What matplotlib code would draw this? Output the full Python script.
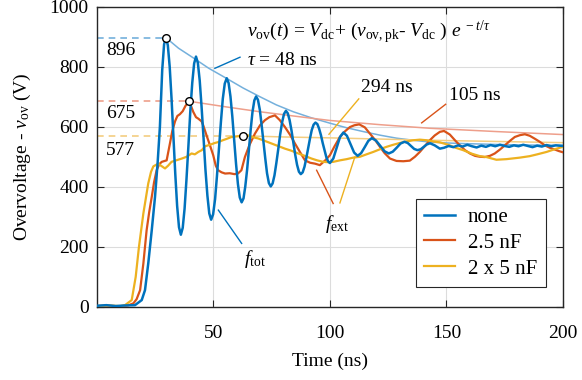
"""
Overvoltage waveforms with and without external capacitance,
with exponential envelope fits.
"""

import numpy as np
import matplotlib
matplotlib.use("Agg")
import matplotlib.pyplot as plt

# ─── DATA ─────────────────────────────────────────────────────────────────────
# none (no external capacitor)
t_none = [0, 4, 8, 12, 16.3, 19.2, 20.6, 22.0, 23.5, 24.9, 26.0, 27.0, 28.0, 28.8, 29.6,
          30.4, 31.2, 32.0, 32.8, 33.6, 34.4, 35.2, 36.0,
          36.8, 37.6, 38.4, 39.25, 40.05, 40.9, 41.7, 42.5,
          43.3, 44.1, 44.9, 45.75, 46.55, 47.4, 48.2, 49.0,
          49.85, 50.7, 51.5, 52.35, 53.2, 54.0, 54.85, 55.7,
          56.5, 57.3, 58.1, 58.9, 59.7, 60.5, 61.3, 62.1,
          62.9, 63.65, 64.45, 65.2, 66.0, 66.75, 67.55, 68.3,
          69.1, 69.9, 70.65, 71.45, 72.25, 73.0, 73.8, 74.6,
          75.4, 76.2, 77.0, 77.85, 78.65, 79.5, 80.3, 81.1,
          81.9, 82.7, 83.5, 84.3, 85.1, 85.9, 86.7, 87.5,
          88.3, 89.1, 89.85, 90.65, 91.45, 92.2, 93.0, 93.8,
          94.6, 95.35, 96.15, 96.9, 97.7, 98.45, 99.25, 100.0,
          101.45, 102.9, 104.35, 105.8, 107.3, 108.85, 110.4, 111.9, 113.4, 114.95, 116.5,
          118.0, 119.8, 121.65, 123.5, 125.3, 127.0, 128.65, 130.3, 132.0, 133.4, 134.8,
          136.2, 137.6, 139.0, 140.3, 141.6, 143.0, 145, 147.2, 149, 151, 153, 155, 157,
          159, 161, 163, 165, 167, 169, 171, 173, 175, 177, 179, 181, 183, 185, 187, 189,
          191, 193, 195, 197, 200]
v_none = [3, 5, 2, 4, 5, 22, 55, 144, 255, 366, 477, 600, 790, 875, 897,
          872, 801, 694, 568, 443, 336, 265, 240,
          263, 327, 423, 537, 651, 747, 811, 834,
          813, 754, 666, 562, 458, 370, 311, 290,
          308, 359, 436, 526, 616, 693, 744, 762,
          746, 701, 634, 555, 476, 409, 364, 348,
          361, 400, 457, 524, 592, 649, 688, 701,
          690, 657, 608, 551, 494, 445, 412, 401,
          411, 438, 479, 527, 575, 616, 643, 653,
          645, 622, 588, 547, 507, 473, 450, 442,
          448, 467, 495, 528, 561, 589, 607, 614,
          609, 594, 572, 546, 521, 499, 484, 479,
          494, 530, 566, 581, 570, 542, 514, 503, 512, 532, 553,
          562, 554, 536, 518, 511, 517, 530, 544, 550, 546, 536,
          526, 522, 525, 533, 541, 545, 538, 527, 530, 536, 532, 538, 534,
          540, 535, 531, 537, 533, 539, 535, 540, 536, 533, 538, 535, 540, 536, 532, 537,
          534, 539, 535, 538, 536]

# 2.5 nF
t_25 = [0, 5, 10, 13.3, 15.6, 17.0, 18.5, 19.9, 21.3, 22.4, 23.5, 24.5, 25.6, 26.7,
        27.8, 29.9, 31.3, 32.3, 33.5, 34.5, 35.6, 36.8, 38.0, 39.6, 41.3, 42.5, 43.5,
        44.9, 45.6, 47.0, 48.5, 49.9, 51.0, 52.0, 53.5, 55.0, 57.0, 59.0, 60.5, 62.0,
        63.5, 65.5, 67.8, 70.0, 72.1, 74.0, 76.4, 78.5, 80.7, 83.0, 85.0, 87.2, 89.3,
        91.5, 93.6, 95.7, 98.0, 100.0, 102.0, 104.3, 106.5, 108.6, 110.5, 112.6, 115.0,
        117.2, 119.5, 121.5, 123.5, 125.8, 128.6, 131.5, 134.3, 136.5, 138.6, 140.8,
        142.9, 145.0, 147.2, 149.0, 151.5, 153.7, 155.8, 158.0, 160.1, 162.3, 164.4,
        166.5, 168.7, 170.8, 173.0, 175.1, 177.3, 179.4, 181.6, 183.7, 185.8, 188.0,
        190.1, 192.3, 194.4, 196.6, 198.3, 200]
v_25 = [2, 3, 1, 4, 11, 25, 55, 144, 255, 315, 366, 415, 455, 475,
        483, 488, 544, 585, 618, 636, 642, 652, 670, 685, 650, 632, 627,
        618, 605, 572, 538, 505, 470, 455, 448, 444, 445, 442, 444, 455,
        499, 540, 577, 605, 622, 632, 638, 622, 599, 572, 544, 515, 488,
        480, 477, 472, 488, 505, 535, 566, 585, 599, 605, 608, 598,
        577, 555, 533, 512, 494, 486, 485, 487, 500, 516, 536,
        555, 571, 583, 586, 574, 555, 538, 522, 511, 503, 500,
        499, 503, 511, 524, 538, 553, 566, 572, 575, 570, 560,
        550, 538, 530, 524, 519, 515]

# 2 x 5 nF
t_25x2 = [0, 5, 10, 12.0, 14.9, 16.6, 18.0, 19.9, 22.0, 23.2, 24.2, 26.3, 27.5, 29.2,
          30.5, 32.0, 34.0, 36.4, 38.5, 40.6, 42.0, 43.5, 45.0, 46.4, 48.5, 50.6, 52.1,
          54.0, 55.8, 57.8, 60.0, 62.5, 64.5, 66.5, 69.2, 72.0, 75.0, 78.0, 80.7, 83.5,
          86.4, 89.2, 92.1, 94.5, 97.1, 99.0, 101.4, 104.3, 107.2, 110.0, 112.9, 115.7,
          118.6, 121.5, 124.3, 127.2, 130.0, 132.9, 135.8, 138.6, 141.5, 144.3, 147.2,
          150.8, 154.0, 157.2, 161.0, 164.4, 167.2, 171.5, 175.8, 181.5, 185.8, 189.0,
          193.0, 196.5, 200]
v_25x2 = [2, 4, 2, 5, 22, 99, 199, 311, 411, 450, 468, 477, 470, 461,
          470, 483, 488, 494, 500, 511, 508, 516, 522, 535, 540, 546, 549,
          555, 560, 566, 568, 570, 572, 566, 561, 553, 544, 535, 527, 520,
          511, 503, 494, 488, 483, 482, 483, 488, 492, 497, 500, 508,
          516, 525, 533, 540, 546, 551, 555, 557, 555, 551, 548,
          540, 530, 522, 510, 502, 499, 490, 492, 497, 502, 508,
          516, 525, 533]

series_labels = ["none", "2.5 nF", "2 x 5 nF"]

# exponential envelope fits
fit_none_t = [29.6, 35, 41.3, 48, 55.7, 62.8, 70, 77, 84.3, 92, 100, 107, 114.3, 121.5,
              128.6, 135.8, 142.9, 150, 157.2, 171.5, 185.8, 200]
fit_none_v = [897, 862, 830, 795, 761, 729, 700, 673, 650, 630, 612, 597, 584, 572,
              562, 555, 549, 546, 544, 541, 539, 538]
fit_25_t = [39.6, 55.7, 70, 84.3, 100, 121.5, 142.9, 171.5, 200]
fit_25_v = [685, 666, 650, 636, 621, 607, 595, 584, 574]
fit_25x2_t = [62.5, 80, 100, 121.5, 142.9, 171.5, 200]
fit_25x2_v = [570, 566, 563, 559, 555, 551, 547]

# peak markers (t, v) and their labels
peak_t = [29.6, 39.6, 62.5]
peak_v = [897, 685, 570]
peak_labels = ["896", "675", "577"]

# ─── STYLE ────────────────────────────────────────────────────────────────────
BLUE = "#0072BD"
RED = "#D95319"
YELLOW = "#EDB120"
LBLUE = "#74B0DC"
LRED = "#EE9F8B"
LYELLOW = "#F3CD80"
GRID = "#DCDCDC"
DARK = "#262626"

plt.rcParams.update({
    "font.family": "Liberation Serif",
    "mathtext.fontset": "custom",
    "mathtext.rm": "Liberation Serif",
    "mathtext.it": "Liberation Serif:italic",
    "mathtext.bf": "Liberation Serif:bold",
    "font.size": 14,
    "axes.linewidth": 1.0,
    "axes.edgecolor": DARK,
    "xtick.direction": "in",
    "ytick.direction": "in",
    "xtick.top": True,
    "ytick.right": True,
    "xtick.major.size": 5,
    "ytick.major.size": 5,
    "xtick.color": DARK,
    "ytick.color": DARK,
    "lines.solid_joinstyle": "round",
})

fig = plt.figure(figsize=(5.82, 3.80), dpi=100)
ax = fig.add_axes([0.1667, 0.193, 0.8003, 0.789])

ax.grid(True, color=GRID, lw=0.8)
ax.set_axisbelow(True)

# dashed level lines up to the peaks
for pt, pv, c in zip(peak_t, peak_v, [LBLUE, LRED, LYELLOW]):
    ax.plot([0, pt], [pv, pv], color=c, lw=1.2, ls=(0, (4, 3)), zorder=2)

# fitted envelopes
ax.plot(fit_none_t, fit_none_v, color=LBLUE, lw=1.1, zorder=2)
ax.plot(fit_25_t, fit_25_v, color=LRED, lw=1.1, zorder=2)
ax.plot(fit_25x2_t, fit_25x2_v, color=LYELLOW, lw=1.1, zorder=2)

# waveforms
ax.plot(t_none, v_none, color=BLUE, lw=1.8, label=series_labels[0], zorder=4)
ax.plot(t_25, v_25, color=RED, lw=1.6, label=series_labels[1], zorder=3)
ax.plot(t_25x2, v_25x2, color=YELLOW, lw=1.6, label=series_labels[2], zorder=3)

ax.plot(peak_t, peak_v, ls="none", marker="o", ms=5.5, mfc="white",
        mec="black", mew=1.0, zorder=6)

for lab, y in zip(peak_labels, [853, 644, 522]):
    ax.text(3.8, y, lab, ha="left", va="center", fontsize=14, color="black")

# formula + time constants
ax.text(64.5, 913,
        r"$v_{\mathrm{ov}}(t)$ = $V_{\mathrm{dc}}$+ ($v_{\mathrm{ov,pk}}$- $V_{\mathrm{dc}}$ ) $e^{\ -t/\tau}$",
        ha="left", va="center", fontsize=14)
ax.text(64.5, 822, r"$\tau$ = 48 ns", ha="left", va="center", fontsize=14)
ax.plot([50.6, 61.4], [795, 832], color=BLUE, lw=1.0, zorder=5)

ax.text(113.5, 732, "294 ns", ha="left", va="center", fontsize=14)
ax.plot([112.4, 99.6], [693, 575], color=YELLOW, lw=1.0, zorder=5)
ax.text(151.3, 705, "105 ns", ha="left", va="center", fontsize=14)
ax.plot([149.7, 139.4], [675, 613], color=RED, lw=1.0, zorder=5)

# frequency annotations
ax.text(103, 275, r"$f_{\mathrm{ext}}$", ha="center", va="center", fontsize=14)
ax.plot([94.3, 101.4], [455, 344], color=RED, lw=1.0, zorder=5)
ax.plot([110.7, 104.3], [499, 346], color=YELLOW, lw=1.0, zorder=5)
ax.text(68, 160, r"$f_{\mathrm{tot}}$", ha="center", va="center", fontsize=14)
ax.plot([52.1, 62.1], [322, 211], color=BLUE, lw=1.0, zorder=5)

ax.set_xlim(0, 200)
ax.set_ylim(0, 1000)
ax.set_xticks([50, 100, 150, 200])
ax.set_yticks([0, 200, 400, 600, 800, 1000])
ax.tick_params(labelsize=14, colors=DARK, labelcolor="black")
ax.tick_params(axis="x", pad=13)
ax.tick_params(axis="y", pad=6)
ax.set_xlabel("Time (ns)", fontsize=14, labelpad=8)
ax.set_ylabel(r"Overvoltage - $v_{\mathrm{ov}}$ (V)", fontsize=14, labelpad=12)

leg = ax.legend(loc="lower right", bbox_to_anchor=(0.963, 0.066), borderaxespad=0,
                prop={"size": 15}, frameon=True, fancybox=False, framealpha=1,
                edgecolor=DARK, handlelength=1.5, handletextpad=0.6,
                labelspacing=0.3, borderpad=0.4)
leg.get_frame().set_linewidth(0.8)

fig.savefig("out.png", dpi=100)
